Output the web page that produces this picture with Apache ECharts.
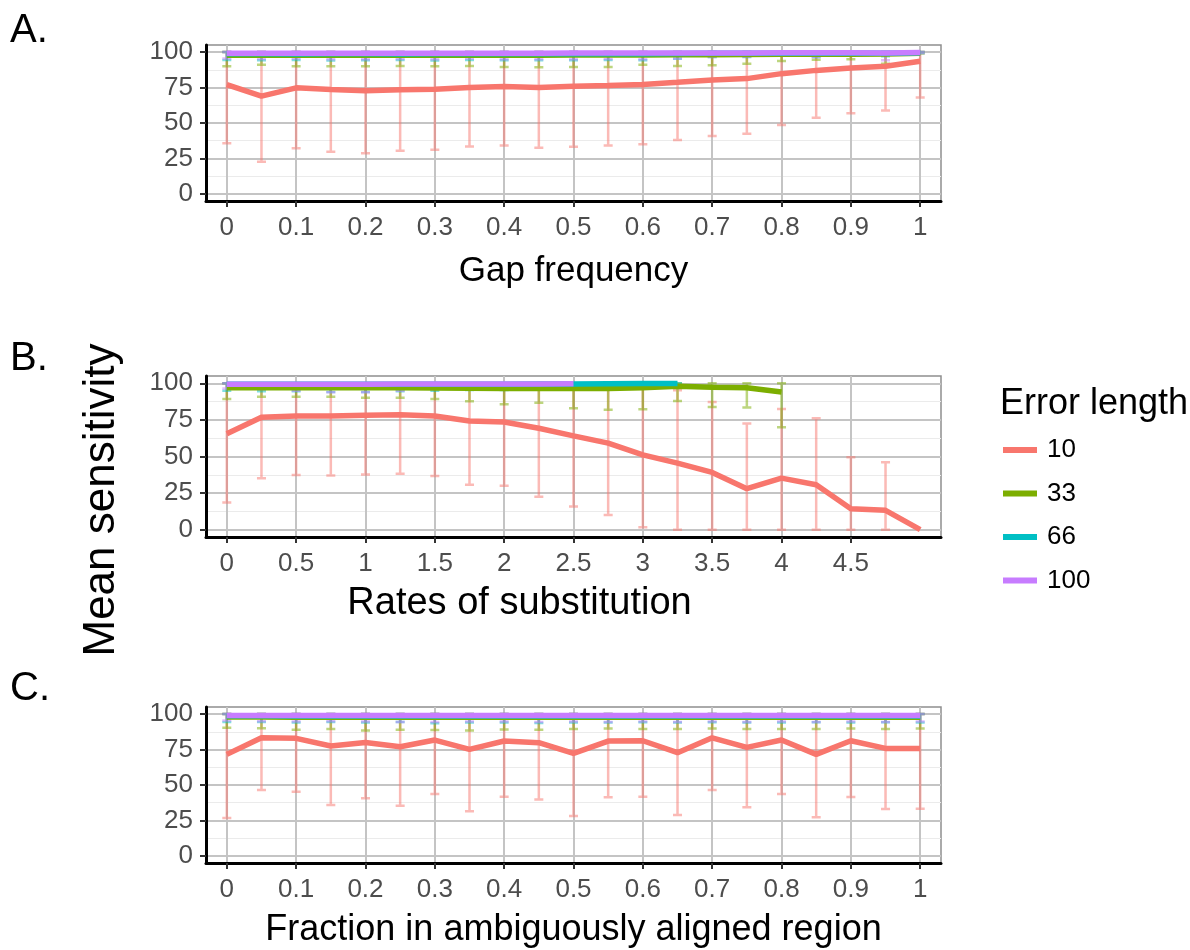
<!DOCTYPE html>
<html>
<head>
<meta charset="utf-8">
<script src="https://cdn.jsdelivr.net/npm/echarts@6/dist/echarts.min.js"></script>
<style>
  html, body { margin: 0; padding: 0; background: #fff; }
  #chart { width: 1190px; height: 950px; }
</style>
</head>
<body>
<div id="chart"></div>
<script>
// ---- x categories -------------------------------------------------------
const gapFreq   = [0, 0.05, 0.1, 0.15, 0.2, 0.25, 0.3, 0.35, 0.4, 0.45, 0.5, 0.55, 0.6, 0.65, 0.7, 0.75, 0.8, 0.85, 0.9, 0.95, 1];
const substRate = [0, 0.25, 0.5, 0.75, 1, 1.25, 1.5, 1.75, 2, 2.25, 2.5, 2.75, 3, 3.25, 3.5, 3.75, 4, 4.25, 4.5, 4.75, 5];
const ambigFrac = [0, 0.05, 0.1, 0.15, 0.2, 0.25, 0.3, 0.35, 0.4, 0.45, 0.5, 0.55, 0.6, 0.65, 0.7, 0.75, 0.8, 0.85, 0.9, 0.95, 1];

// ---- tick labels ---------------------------------------------------------
const gapTicks   = [0, 0.1, 0.2, 0.3, 0.4, 0.5, 0.6, 0.7, 0.8, 0.9, 1];
const substTicks = [0, 0.5, 1, 1.5, 2, 2.5, 3, 3.5, 4, 4.5];
const ambigTicks = [0, 0.1, 0.2, 0.3, 0.4, 0.5, 0.6, 0.7, 0.8, 0.9, 1];
const sensTicks  = [0, 25, 50, 75, 100];
const sensMinor  = [12.5, 37.5, 62.5, 87.5];

// ---- error lengths -------------------------------------------------------
const errorLengths = ['10', '33', '66', '100'];

// ---- A. gap frequency ----------------------------------------------------
const gapMean10  = [77.1, 68.9, 74.8, 73.6, 72.7, 73.4, 73.8, 75.0, 75.7, 75.0, 75.9, 76.4, 77.1, 78.7, 80.4, 81.3, 84.8, 87.1, 88.8, 90.0, 93.5];
const gapLow10   = [35.7, 22.7, 32.2, 29.7, 28.7, 30.4, 31.1, 33.4, 34.1, 32.5, 33.2, 34.1, 35.0, 38.1, 40.9, 42.5, 48.6, 53.7, 56.8, 58.9, 68.0];
const gapHigh10  = [100, 100, 100, 100, 100, 100, 100, 100, 100, 100, 100, 100, 100, 100, 100, 100, 100, 100, 100, 100, 100];
const gapMean33  = [97.8, 97.8, 97.8, 97.8, 97.8, 97.8, 97.8, 97.8, 97.8, 97.8, 97.9, 97.9, 98.0, 98.1, 98.2, 98.3, 98.4, 98.5, 98.5, 98.6, 99.2];
const gapLow33   = [90.0, 91.1, 90.0, 90.0, 90.0, 90.2, 90.0, 90.2, 89.5, 89.3, 89.5, 89.5, 91.1, 90.2, 90.7, 91.8, 93.7, 94.6, 94.9, 91.8, 99.0];
const gapHigh33  = [100, 100, 100, 100, 100, 100, 100, 100, 100, 100, 100, 100, 100, 100, 100, 100, 100, 100, 100, 100, 100];
const gapMean66  = [98.8, 98.8, 98.7, 98.8, 98.8, 98.7, 98.8, 98.8, 98.8, 98.8, 98.9, 98.9, 98.9, 99.0, 99.1, 99.1, 99.2, 99.2, 99.3, 99.2, 99.6];
const gapLow66   = [94.5, 94.2, 94.5, 94.0, 94.2, 94.5, 94.0, 94.5, 94.2, 94.2, 94.2, 94.5, 94.2, 95.3, 96.5, 96.5, 97.5, 96.5, 97.5, 97.0, 99.3];
const gapHigh66  = [100, 100, 100, 100, 100, 100, 100, 100, 100, 100, 100, 100, 100, 100, 100, 100, 100, 100, 100, 100, 100];
const gapMean100 = [99.2, 99.2, 99.1, 99.2, 99.2, 99.1, 99.2, 99.2, 99.2, 99.2, 99.3, 99.3, 99.3, 99.3, 99.4, 99.4, 99.5, 99.5, 99.5, 99.4, 99.7];
const gapLow100  = [95.5, 95.2, 95.5, 95.0, 95.0, 95.2, 95.0, 95.5, 95.0, 95.0, 95.0, 95.2, 95.0, 95.5, 96.5, 96.8, 97.7, 96.5, 97.7, 94.2, 99.3];
const gapHigh100 = [100, 100, 100, 100, 100, 100, 100, 100, 100, 100, 100, 100, 100, 100, 100, 100, 100, 100, 100, 100, 100];

// ---- B. rates of substitution --------------------------------------------
const substMean10  = [65.5, 76.8, 77.7, 77.7, 78.2, 78.6, 77.7, 74.3, 73.6, 69.3, 64.1, 59.1, 51.1, 45.5, 39.1, 28.0, 35.2, 30.7, 14.3, 13.2, 0];
const substLow10   = [18.6, 35.2, 37.3, 37.0, 37.7, 38.2, 36.6, 30.7, 30.0, 22.5, 15.9, 10.0, 1.6, 0, 0, 0, 0, 0, 0, 0, null];
const substHigh10  = [100, 100, 100, 100, 100, 100, 100, 100, 100, 100, 100, 100, 100, 95.2, 87.3, 72.6, 82.5, 76.1, 49.5, 46.1, null];
const substMean33  = [97.0, 97.0, 97.0, 97.0, 97.0, 97.0, 96.8, 96.6, 96.4, 96.4, 96.4, 96.4, 97.0, 98.0, 97.3, 97.0, 94.0];
const substLow33   = [89.3, 90.9, 90.9, 90.9, 90.2, 90.2, 89.3, 87.7, 85.7, 86.8, 83.0, 82.0, 82.3, 88.0, 83.9, 83.4, 69.9];
const substHigh33  = [100, 100, 100, 100, 100, 100, 100, 100, 100, 100, 100, 100, 100, 100, 100, 100, 100];
const substMean66  = [99.3, 99.3, 99.3, 99.3, 99.3, 99.3, 99.3, 99.4, 99.4, 99.5, 99.6, 99.7, 99.8, 99.8];
const substLow66   = [95.0, 94.5, 94.5, 94.0, 94.0, 94.5, 95.0, 95.5, 95.5, 96.0, 96.0, 96.5, 97.0, 97.0];
const substHigh66  = [100, 100, 100, 100, 100, 100, 100, 100, 100, 100, 100, 100, 100, 100];
const substMean100 = [99.4, 99.4, 99.4, 99.4, 99.4, 99.5, 99.5, 99.5, 99.6, 99.6, 99.7];
const substLow100  = [96.5, 96.0, 95.0, 93.9, 93.9, 95.0, 96.0, 97.0, 96.5, 97.0, 97.0];
const substHigh100 = [100, 100, 100, 100, 100, 100, 100, 100, 100, 100, 100];

// ---- C. fraction in ambiguously aligned region ---------------------------
const ambigMean10  = [71.6, 83.3, 82.9, 77.5, 80.0, 77.0, 81.7, 75.1, 81.0, 79.8, 72.3, 81.0, 81.2, 72.8, 83.3, 76.5, 81.7, 71.6, 81.2, 75.8, 75.8];
const ambigLow10   = [26.8, 46.5, 45.3, 35.9, 40.6, 35.4, 43.7, 31.5, 41.8, 39.7, 28.2, 41.3, 41.8, 28.9, 46.5, 34.3, 43.7, 27.2, 41.5, 33.1, 33.3];
const ambigHigh10  = [100, 100, 100, 100, 100, 100, 100, 100, 100, 100, 100, 100, 100, 100, 100, 100, 100, 100, 100, 100, 100];
const ambigMean33  = [98.0, 97.9, 97.8, 97.8, 97.8, 97.8, 97.8, 97.8, 97.8, 97.8, 97.8, 97.8, 97.8, 97.8, 97.8, 97.8, 97.8, 97.8, 97.8, 97.8, 97.8];
const ambigLow33   = [90.4, 90.0, 89.0, 89.5, 88.5, 89.0, 88.8, 88.5, 89.2, 89.0, 89.5, 89.8, 89.5, 89.5, 89.8, 89.5, 89.5, 89.5, 89.8, 89.5, 89.8];
const ambigHigh33  = [100, 100, 100, 100, 100, 100, 100, 100, 100, 100, 100, 100, 100, 100, 100, 100, 100, 100, 100, 100, 100];
const ambigMean66  = [98.8, 98.8, 98.7, 98.7, 98.7, 98.7, 98.7, 98.7, 98.7, 98.7, 98.7, 98.7, 98.7, 98.7, 98.7, 98.7, 98.7, 98.7, 98.7, 98.7, 98.7];
const ambigLow66   = [94.5, 94.5, 94.0, 94.5, 94.0, 94.5, 93.5, 94.0, 94.0, 93.8, 94.0, 94.0, 94.2, 94.0, 94.2, 94.0, 94.0, 94.2, 94.0, 94.2, 94.0];
const ambigHigh66  = [100, 100, 100, 100, 100, 100, 100, 100, 100, 100, 100, 100, 100, 100, 100, 100, 100, 100, 100, 100, 100];
const ambigMean100 = [99.0, 99.0, 99.0, 99.0, 99.0, 99.0, 99.0, 99.0, 99.0, 99.0, 99.0, 99.0, 99.0, 99.0, 99.0, 99.0, 99.0, 99.0, 99.0, 99.0, 99.0];
const ambigLow100  = [95.5, 95.0, 94.8, 95.0, 94.8, 94.5, 94.5, 94.8, 94.8, 94.5, 94.8, 94.5, 94.8, 94.5, 94.8, 94.5, 94.8, 94.5, 94.8, 94.5, 94.8];
const ambigHigh100 = [100, 100, 100, 100, 100, 100, 100, 100, 100, 100, 100, 100, 100, 100, 100, 100, 100, 100, 100, 100, 100];

// ---- styling -------------------------------------------------------------
const FONT = 'Liberation Sans, Arial, Helvetica, sans-serif';
const COLORS = { '10': '#F8766D', '33': '#7CAE00', '66': '#00BFC4', '100': '#C77CFF' };

const panels = [
  {
    label: 'A.', top: 45, height: 156, x: gapFreq, step: 0.05, ticks: gapTicks,
    title: 'Gap frequency', titleSize: 35, titleGap: 53, titleShift: 0,
    series: {
      '10':  [gapMean10,  gapLow10,  gapHigh10],
      '33':  [gapMean33,  gapLow33,  gapHigh33],
      '66':  [gapMean66,  gapLow66,  gapHigh66],
      '100': [gapMean100, gapLow100, gapHigh100]
    }
  },
  {
    label: 'B.', top: 376, height: 161, x: substRate, step: 0.25, ticks: substTicks,
    title: 'Rates of substitution', titleSize: 38, titleGap: 48, titleShift: 108,
    series: {
      '10':  [substMean10,  substLow10,  substHigh10],
      '33':  [substMean33,  substLow33,  substHigh33],
      '66':  [substMean66,  substLow66,  substHigh66],
      '100': [substMean100, substLow100, substHigh100]
    }
  },
  {
    label: 'C.', top: 707, height: 156, x: ambigFrac, step: 0.05, ticks: ambigTicks,
    title: 'Fraction in ambiguously aligned region', titleSize: 36, titleGap: 49, titleShift: 0,
    series: {
      '10':  [ambigMean10,  ambigLow10,  ambigHigh10],
      '33':  [ambigMean33,  ambigLow33,  ambigHigh33],
      '66':  [ambigMean66,  ambigLow66,  ambigHigh66],
      '100': [ambigMean100, ambigLow100, ambigHigh100]
    }
  }
];

// vertical error bar with caps, drawn as one path so overlaps don't darken
function errorBar(color) {
  return function (params, api) {
    const x = api.value(0), lo = api.value(1), hi = api.value(2);
    if (isNaN(lo) || isNaN(hi)) return null;
    const a = api.coord([x, lo]);
    const b = api.coord([x, hi]);
    const h = 4.5;
    const d = 'M' + (a[0] - h) + ' ' + a[1] + 'L' + (a[0] + h) + ' ' + a[1] +
              'M' + a[0] + ' ' + a[1] + 'L' + b[0] + ' ' + b[1] +
              'M' + (b[0] - h) + ' ' + b[1] + 'L' + (b[0] + h) + ' ' + b[1];
    return {
      type: 'path',
      shape: { pathData: d },
      style: { fill: null, stroke: color, lineWidth: 2.5, opacity: 0.5 }
    };
  };
}

const grids = [], xAxes = [], yAxes = [], series = [];

panels.forEach((p, i) => {
  grids.push({
    left: 206, width: 735, top: p.top, height: p.height,
    show: true, borderColor: '#8f8f8f', borderWidth: 1.5
  });

  const pad = p.step * 0.6;
  xAxes.push({
    type: 'value', gridIndex: i,
    min: p.x[0] - pad, max: p.x[p.x.length - 1] + pad,
    axisLine: { onZero: false, lineStyle: { color: '#000', width: 3 } },
    axisTick: { customValues: p.ticks, length: 6, lineStyle: { color: '#333', width: 2 } },
    axisLabel: { customValues: p.ticks, margin: 14, fontSize: 26, color: '#4d4d4d', fontFamily: FONT },
    splitLine: { show: true, lineStyle: { color: '#c4c4c4', width: 2 } },
    name: p.title, nameLocation: 'middle', nameGap: p.titleGap,
    nameTextStyle: { fontSize: p.titleSize, color: '#000', fontFamily: FONT, padding: [0, p.titleShift, 0, 0] }
  });

  yAxes.push({
    type: 'value', gridIndex: i, min: -5, max: 105,
    axisLine: { onZero: false, lineStyle: { color: '#000', width: 3 } },
    axisTick: { customValues: sensTicks, length: 6, lineStyle: { color: '#333', width: 2 } },
    axisLabel: { customValues: sensTicks, margin: 13, fontSize: 26, color: '#4d4d4d', fontFamily: FONT },
    splitLine: { show: true, lineStyle: { color: '#c4c4c4', width: 2 } }
  });
  // minor horizontal grid lines
  yAxes.push({
    type: 'value', gridIndex: i, min: -5, max: 105, position: 'left',
    axisLine: { show: false },
    axisTick: { show: false, customValues: sensMinor },
    axisLabel: { show: false },
    splitLine: { show: true, lineStyle: { color: '#ebebeb', width: 1 } }
  });

  errorLengths.forEach(len => {
    const [mean] = p.series[len];
    series.push({
      type: 'line', name: len, xAxisIndex: i, yAxisIndex: i * 2,
      data: mean.map((v, k) => [p.x[k], v]),
      showSymbol: false, symbol: 'none',
      lineStyle: { color: COLORS[len], width: 5.5 },
      itemStyle: { color: COLORS[len] },
      emphasis: { disabled: true }
    });
  });
  errorLengths.forEach(len => {
    const [, low, high] = p.series[len];
    series.push({
      type: 'custom', name: len, xAxisIndex: i, yAxisIndex: i * 2,
      data: low.map((v, k) => [p.x[k], v, high[k]]),
      encode: { x: 0, y: [1, 2] },
      itemStyle: { color: COLORS[len] },
      renderItem: errorBar(COLORS[len])
    });
  });
});

const graphics = [
  { type: 'text', left: 10, top: 11, style: { text: 'A.', fontSize: 40, fill: '#000', fontFamily: FONT } },
  { type: 'text', left: 10, top: 339, style: { text: 'B.', fontSize: 40, fill: '#000', fontFamily: FONT } },
  { type: 'text', left: 10, top: 669, style: { text: 'C.', fontSize: 40, fill: '#000', fontFamily: FONT } },
  {
    type: 'text', x: 102, y: 500, rotation: Math.PI / 2,
    style: { text: 'Mean sensitivity', fontSize: 44, fill: '#000', fontFamily: FONT, align: 'center', verticalAlign: 'middle' }
  },
  {
    type: 'text', x: 1000, y: 404,
    style: { text: 'Error length', fontSize: 36, fill: '#000', fontFamily: FONT, align: 'left', verticalAlign: 'middle' }
  }
];

const chart = echarts.init(document.getElementById('chart'), null, { renderer: 'canvas' });
chart.setOption({
  animation: false,
  backgroundColor: '#fff',
  grid: grids,
  xAxis: xAxes,
  yAxis: yAxes,
  series: series,
  graphic: graphics,
  legend: {
    data: errorLengths, orient: 'vertical', left: 1003, top: 437, padding: 0,
    icon: 'rect', itemWidth: 34, itemHeight: 6, itemGap: 17.5,
    selectedMode: true,
    textStyle: { fontSize: 26, color: '#000', fontFamily: FONT, padding: [0, 0, 0, 5] }
  }
});
</script>
</body>
</html>
